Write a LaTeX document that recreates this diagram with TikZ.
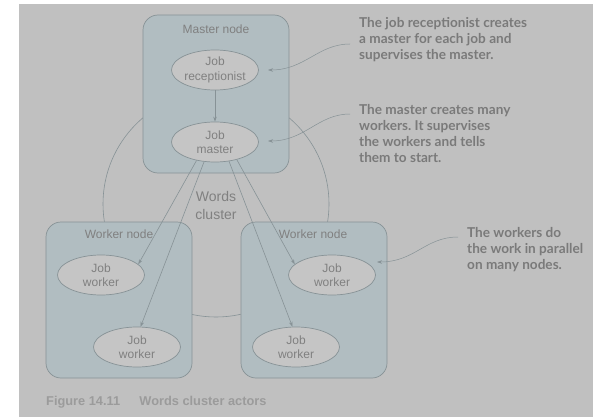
\documentclass[tikz,border=0pt]{standalone}
\usepackage{fontspec}
\setmainfont{Liberation Sans}
\newfontfamily\callfont{Lato}
\frenchspacing
\usetikzlibrary{shapes.geometric,arrows.meta}
\definecolor{pagegrey}{RGB}{192,192,192}
\definecolor{boxfill}{RGB}{177,189,193}
\definecolor{boxline}{RGB}{135,146,150}
\definecolor{ellfill}{RGB}{197,197,197}
\definecolor{inkgrey}{RGB}{128,128,128}
\definecolor{calltext}{RGB}{122,122,122}
\definecolor{captext}{RGB}{155,155,155}
\tikzset{
  hostbox/.style={draw=boxline, fill=boxfill, rounded corners=15pt, line width=0.7pt},
  actor/.style={ellipse, draw=boxline, fill=ellfill, line width=0.7pt,
    minimum width=87pt, minimum height=40pt, inner sep=0pt, align=center,
    font=\fontsize{12}{14.5}\selectfont, text=inkgrey},
  boxlabel/.style={font=\fontsize{12}{14}\selectfont, text=inkgrey},
  link/.style={draw=boxline, line width=0.6pt, -{Stealth[length=5pt,width=3.5pt]}},
  note/.style={font=\callfont\bfseries\fontsize{13.6}{16}\selectfont, text=calltext,
    align=left, anchor=north west, inner sep=0pt},
  pointer/.style={draw=boxline, line width=0.5pt, -{Stealth[length=5pt,width=3.5pt]}}
}
\begin{document}
\begin{tikzpicture}[x=1pt,y=-1pt]
\useasboundingbox (0,0) rectangle (593,417);
\fill[white] (0,0) rectangle (593,417);
\fill[pagegrey] (19,4) rectangle (593,417);

% cluster ring behind the hosts
\draw[boxline, line width=0.6pt] (216,204) circle (113pt);
\node[boxlabel, align=center, font=\fontsize{14}{18}\selectfont] (cl) at (216,205) {Words\\cluster};

% hosts
\draw[hostbox] (143,15) rectangle (289,173);
\draw[hostbox] (46,222) rectangle (192,378);
\draw[hostbox] (241,222) rectangle (387,378);
\node[boxlabel] (mn) at (216,29) {Master node};
\node[boxlabel] (wn1) at (119,234) {Worker node};
\node[boxlabel] (wn2) at (313,234) {Worker node};

% actors
\node[actor] (jr) at (215,70) {Job\\receptionist};
\node[actor] (jm) at (215,142) {Job\\master};
\node[actor] (w1) at (101,275) {Job\\worker};
\node[actor] (w2) at (137,347) {Job\\worker};
\node[actor] (w3) at (332,275) {Job\\worker};
\node[actor] (w4) at (296,347) {Job\\worker};

\draw[link] (jr) -- (jm);
\draw[link] (jm.225) -- (w1.16);
\draw[link] (jm.241) -- (w2.80);
\draw[link] (jm.306) -- (w4.100);
\draw[link] (jm.321) -- (w3.164);

% annotations
\node[note] (n1) at (359,17) {The job receptionist creates\\a master for each job and\\supervises the master.};
\node[note] (n2) at (359,104) {The master creates many\\workers. It supervises\\the workers and tells\\them to start.};
\node[note] (n3) at (467,227) {The workers do\\the work in parallel\\on many nodes.};
\coordinate (p1) at (350,44);
\coordinate (p2) at (350,114);
\coordinate (p3) at (458,237);
\coordinate (t1) at (268,70);
\coordinate (t2) at (268,141);
\coordinate (t3) at (377,262);
\draw[pointer] (p1) .. controls (318,44) and (305,70) .. (t1);
\draw[pointer] (p2) .. controls (318,114) and (305,141) .. (t2);
\draw[pointer] (p3) .. controls (425,237) and (415,262) .. (t3);

\node[anchor=west, inner sep=0pt, font=\bfseries\fontsize{12.8}{15}\selectfont, text=captext] (cap) at (46,402) {Figure 14.11\hspace{1.5em}Words cluster actors};
\end{tikzpicture}
\end{document}
